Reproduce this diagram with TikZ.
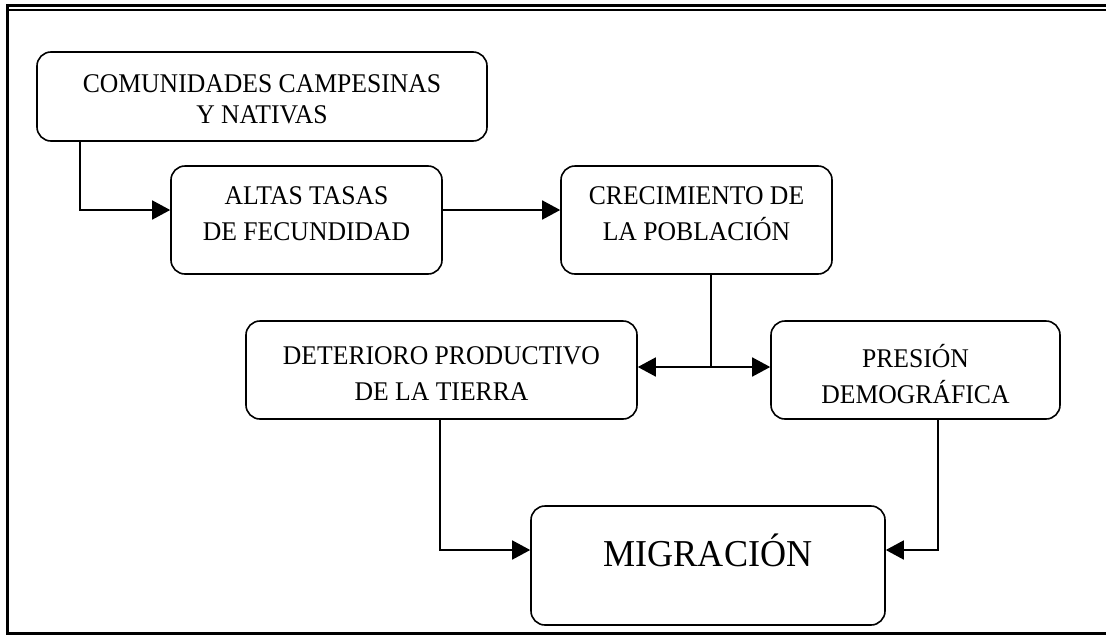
\documentclass[tikz,border=0pt]{standalone}
\usepackage{fontspec}
\setmainfont{Liberation Serif}[FakeStretch=0.95]
\usetikzlibrary{arrows.meta}
\begin{document}
\begin{tikzpicture}[x=1pt,y=-1pt,
  box/.style={draw, line width=1.6pt, rounded corners=14pt, inner sep=0pt},
  txt/.style={align=center, inner sep=0pt, font=\fontsize{27}{36}\selectfont},
  line/.style={line width=1.6pt},
  conn/.style={line width=1.6pt, -{Triangle[length=18pt,width=19pt]}}]
\useasboundingbox (0,0) rectangle (1106,635);
% outer frame
\draw[line width=3pt] (6,5.5) -- (1106,5.5);
\draw[line width=1.8pt] (9,10) -- (1106,10);
\draw[line width=3.5pt] (7.5,4) -- (7.5,635);
\draw[line width=3pt] (6,633.5) -- (1106,633.5);
% boxes
\node[box, minimum width=450pt, minimum height=89pt] (b1) at (262,96.5) {};
\node[box, minimum width=271pt, minimum height=108pt] (b2) at (306.5,220) {};
\node[box, minimum width=271pt, minimum height=108pt] (b3) at (696.5,220) {};
\node[box, minimum width=391pt, minimum height=98pt] (b4) at (441.5,370) {};
\node[box, minimum width=289pt, minimum height=98pt] (b5) at (915.5,370) {};
\node[box, minimum width=354pt, minimum height=119pt, text depth=30pt,
  align=center, font=\fontsize{38}{42}\selectfont] (b6) at (708,565.5) {MIGRACIÓN};
% texts
\node[txt, font=\fontsize{27}{31}\selectfont] (t1) at ([yshift=-3pt]b1.center)
  {COMUNIDADES CAMPESINAS\\Y NATIVAS};
\node[txt] (t2) at ([yshift=6pt]b2.center) {ALTAS TASAS\\DE FECUNDIDAD};
\node[txt] (t3) at ([yshift=6pt]b3.center) {CRECIMIENTO DE\\LA POBLACIÓN};
\node[txt] (t4) at ([yshift=-4pt]b4.center) {DETERIORO PRODUCTIVO\\DE LA TIERRA};
\node[txt] (t5) at ([yshift=-4pt]b5.center) {PRESIÓN\\DEMOGRÁFICA};
% elbow points
\coordinate (e1) at (80,210);
\coordinate (e2) at (711,367);
\coordinate (e3) at (440,550);
\coordinate (e4) at (938,550);
% connectors
\draw[conn] (b1.south -| e1) -- (e1) -- (e1 -| b2.west);
\draw[conn] (e1 -| b2.east) -- (e1 -| b3.west);
\draw[line] (b3.south -| e2) -- (e2);
\draw[conn] (e2) -- (e2 -| b4.east);
\draw[conn] (e2) -- (e2 -| b5.west);
\draw[conn] (b4.south -| e3) -- (e3) -- (e3 -| b6.west);
\draw[conn] (b5.south -| e4) -- (e4) -- (e4 -| b6.east);
\end{tikzpicture}
\end{document}
